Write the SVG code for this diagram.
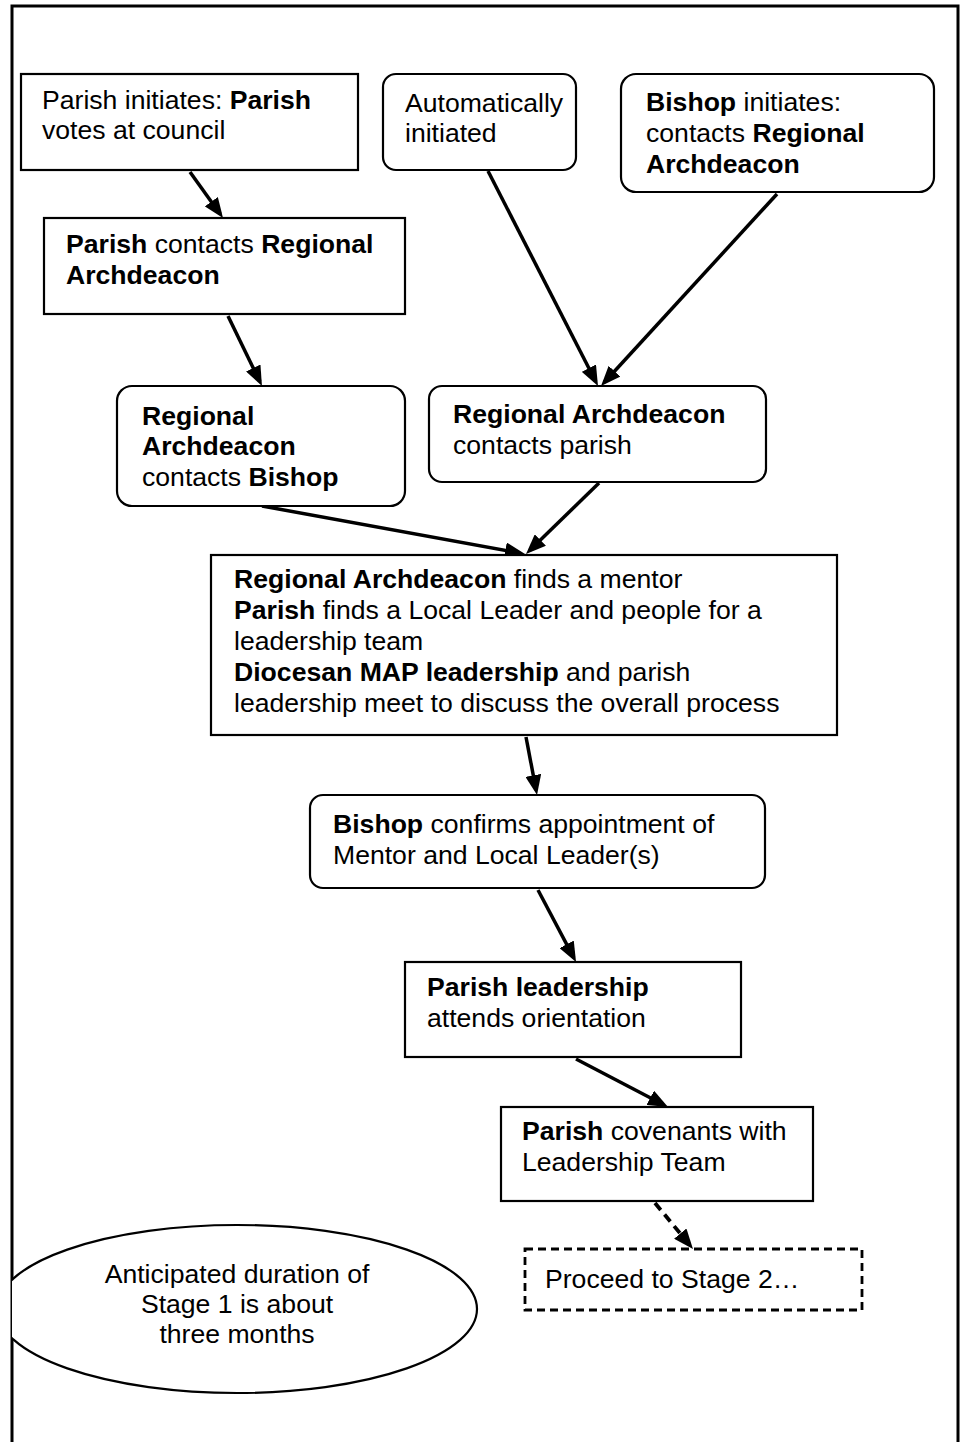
<svg xmlns="http://www.w3.org/2000/svg" width="963" height="1442" viewBox="0 0 963 1442">
<style>
text{font-family:"Liberation Sans",Arial,sans-serif;font-size:26.6px;fill:#000}
.b{font-weight:bold}
.box{fill:#fff;stroke:#000;stroke-width:2.2}
.dash{fill:#fff;stroke:#000;stroke-width:2.8;stroke-dasharray:8 5}
.c{stroke:#000;stroke-width:3.5;fill:none}
.cd{stroke:#000;stroke-width:3.8;fill:none;stroke-dasharray:9 6}
</style>
<defs>
<marker id="ah" viewBox="0 0 20 16" markerWidth="20" markerHeight="16" refX="15" refY="8" orient="auto" markerUnits="userSpaceOnUse">
<path d="M0,0 L20,8 L0,16 z" fill="#000"/>
</marker>
<clipPath id="frame"><rect x="12" y="6" width="946" height="1440"/></clipPath>
</defs>
<rect x="0" y="0" width="963" height="1442" fill="#fff"/>
<rect x="12" y="6" width="946" height="1450" fill="none" stroke="#000" stroke-width="3"/>

<g id="connectors">
<line class="c" x1="190" y1="172" x2="220.1" y2="213.9" marker-end="url(#ah)"/>
<line class="c" x1="228" y1="316" x2="259.8" y2="381.5" marker-end="url(#ah)"/>
<line class="c" x1="488" y1="171" x2="595.7" y2="381.5" marker-end="url(#ah)"/>
<line class="c" x1="777" y1="194" x2="604.4" y2="382.3" marker-end="url(#ah)"/>
<line class="c" x1="262" y1="506" x2="520.1" y2="553.1" marker-end="url(#ah)"/>
<line class="c" x1="599" y1="483" x2="529.6" y2="550.5" marker-end="url(#ah)"/>
<line class="c" x1="526" y1="737" x2="536.1" y2="790.1" marker-end="url(#ah)"/>
<line class="c" x1="538" y1="890" x2="573.7" y2="957.6" marker-end="url(#ah)"/>
<line class="c" x1="576" y1="1059" x2="663.6" y2="1104.7" marker-end="url(#ah)"/>
<line class="cd" x1="655" y1="1203" x2="689.8" y2="1245.1" marker-end="url(#ah)"/>
</g>

<g id="parish-initiates">
<rect class="box" x="21" y="74" width="337" height="96"/>
<text x="42" y="109">Parish initiates: <tspan class="b">Parish</tspan></text>
<text x="42" y="139">votes at council</text>
</g>

<g id="auto-initiated">
<rect class="box" x="383" y="74" width="193" height="96" rx="13"/>
<text x="405" y="112">Automatically</text>
<text x="405" y="142">initiated</text>
</g>

<g id="bishop-initiates">
<rect class="box" x="621" y="74" width="313" height="118" rx="15"/>
<text x="646" y="111"><tspan class="b">Bishop</tspan> initiates:</text>
<text x="646" y="142">contacts <tspan class="b">Regional</tspan></text>
<text x="646" y="173" class="b">Archdeacon</text>
</g>

<g id="parish-contacts">
<rect class="box" x="44" y="218" width="361" height="96"/>
<text x="66" y="253"><tspan class="b">Parish</tspan> contacts <tspan class="b">Regional</tspan></text>
<text x="66" y="284" class="b">Archdeacon</text>
</g>

<g id="ra-contacts-bishop">
<rect class="box" x="117" y="386" width="288" height="120" rx="15"/>
<text x="142" y="425" class="b">Regional</text>
<text x="142" y="455" class="b">Archdeacon</text>
<text x="142" y="486">contacts <tspan class="b">Bishop</tspan></text>
</g>

<g id="ra-contacts-parish">
<rect class="box" x="429" y="386" width="337" height="96" rx="13"/>
<text x="453" y="423" class="b">Regional Archdeacon</text>
<text x="453" y="454">contacts parish</text>
</g>

<g id="mentor-box">
<rect class="box" x="211" y="555" width="626" height="180"/>
<text x="234" y="588"><tspan class="b">Regional Archdeacon</tspan> finds a mentor</text>
<text x="234" y="619"><tspan class="b">Parish</tspan> finds a Local Leader and people for a</text>
<text x="234" y="650">leadership team</text>
<text x="234" y="681"><tspan class="b">Diocesan MAP leadership</tspan> and parish</text>
<text x="234" y="712">leadership meet to discuss the overall process</text>
</g>

<g id="bishop-confirms">
<rect class="box" x="310" y="795" width="455" height="93" rx="13"/>
<text x="333" y="833"><tspan class="b">Bishop</tspan> confirms appointment of</text>
<text x="333" y="864">Mentor and Local Leader(s)</text>
</g>

<g id="parish-leadership">
<rect class="box" x="405" y="962" width="336" height="95"/>
<text x="427" y="996" class="b">Parish leadership</text>
<text x="427" y="1027">attends orientation</text>
</g>

<g id="parish-covenants">
<rect class="box" x="501" y="1107" width="312" height="94"/>
<text x="522" y="1140"><tspan class="b">Parish</tspan> covenants with</text>
<text x="522" y="1171">Leadership Team</text>
</g>

<g id="proceed">
<rect class="dash" x="525" y="1249" width="337" height="61"/>
<text x="545" y="1288">Proceed to Stage 2…</text>
</g>

<g id="duration">
<ellipse class="box" cx="237" cy="1309" rx="240" ry="84" clip-path="url(#frame)"/>
<text x="237" y="1283" text-anchor="middle">Anticipated duration of</text>
<text x="237" y="1313" text-anchor="middle">Stage 1 is about</text>
<text x="237" y="1343" text-anchor="middle">three months</text>
</g>
</svg>
